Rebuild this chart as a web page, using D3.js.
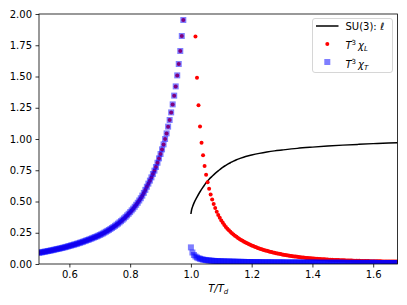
<!DOCTYPE html>
<html><head><meta charset="utf-8">
<script src="https://cdn.jsdelivr.net/npm/d3@7"></script>
<style>body{margin:0;background:#fff}svg{display:block}text{font-family:"DejaVu Sans",sans-serif}</style>
</head><body>
<script>
// chi (T^3 chi) below T_d : same for L and T
const chiBelow = [[0.500,0.090],[0.505,0.092],[0.510,0.094],[0.515,0.097],[0.520,0.099],[0.525,0.101],[0.530,0.104],[0.535,0.106],[0.540,0.109],[0.545,0.111],[0.550,0.114],[0.555,0.117],[0.560,0.120],[0.565,0.122],[0.570,0.125],[0.575,0.128],[0.580,0.131],[0.585,0.134],[0.590,0.137],[0.595,0.141],[0.600,0.144],
[0.605,0.148],[0.610,0.151],[0.615,0.155],[0.620,0.158],[0.625,0.162],[0.630,0.166],[0.635,0.170],[0.640,0.174],[0.645,0.178],[0.650,0.183],[0.655,0.187],[0.660,0.192],[0.665,0.196],[0.670,0.201],[0.675,0.206],[0.680,0.211],[0.685,0.216],[0.690,0.221],[0.695,0.226],[0.700,0.232],
[0.705,0.238],[0.710,0.244],[0.715,0.251],[0.720,0.258],[0.725,0.265],[0.730,0.272],[0.735,0.280],[0.740,0.288],[0.745,0.296],[0.750,0.305],[0.755,0.314],[0.760,0.323],[0.765,0.333],[0.770,0.343],[0.775,0.354],[0.780,0.365],[0.785,0.377],[0.790,0.389],[0.795,0.402],[0.800,0.415],
[0.805,0.429],[0.810,0.443],[0.815,0.458],[0.820,0.474],[0.825,0.490],[0.830,0.508],[0.835,0.526],[0.840,0.547],[0.845,0.569],[0.850,0.593],[0.855,0.618],
[0.860,0.643],[0.865,0.667],[0.870,0.693],[0.875,0.720],[0.880,0.747],[0.885,0.776],[0.890,0.810],[0.895,0.845],[0.900,0.880],[0.905,0.917],[0.910,0.957],[0.915,1.000],[0.920,1.045],[0.925,1.099],[0.930,1.152],[0.935,1.213],[0.940,1.277],[0.945,1.347],[0.950,1.421],[0.955,1.509],[0.960,1.600],[0.965,1.704],[0.970,1.824],[0.975,1.952]];

// T^3 chi_L above T_d
const chiLAbove = [[1.015,1.82],[1.020,1.49],[1.025,1.27],[1.030,1.10],[1.035,0.97],[1.040,0.87],[1.045,0.784],[1.050,0.715],[1.055,0.655],[1.060,0.603],[1.065,0.557],[1.070,0.516],[1.075,0.480],[1.080,0.448],[1.085,0.419],[1.090,0.393],[1.095,0.370],[1.100,0.349],[1.105,0.330],[1.110,0.313],[1.115,0.297],[1.120,0.283],[1.125,0.270],[1.130,0.258],[1.135,0.247],[1.140,0.237],[1.145,0.227],[1.150,0.218],[1.155,0.209],[1.160,0.201],[1.165,0.193],[1.170,0.186],[1.175,0.179],[1.180,0.172],[1.185,0.166],[1.190,0.160],[1.195,0.154],[1.200,0.149],[1.205,0.144],[1.210,0.139],[1.215,0.134],[1.220,0.129],[1.225,0.125],[1.230,0.121],[1.235,0.117],[1.240,0.113],[1.245,0.109],[1.250,0.106],[1.255,0.102],[1.260,0.099],[1.265,0.096],[1.270,0.093],[1.275,0.090],[1.280,0.087],[1.285,0.085],[1.290,0.082],[1.295,0.080],[1.300,0.077],[1.305,0.075],[1.310,0.073],[1.315,0.071],[1.320,0.069],[1.325,0.067],[1.330,0.065],[1.335,0.063],[1.340,0.061],[1.345,0.060],[1.350,0.058],[1.355,0.056],[1.360,0.055],[1.365,0.053],[1.370,0.052],[1.375,0.051],[1.380,0.049],[1.385,0.048],[1.390,0.047],[1.395,0.046],[1.400,0.045],[1.405,0.044],[1.410,0.043],[1.415,0.042],[1.420,0.041],[1.425,0.040],[1.430,0.039],[1.435,0.038],[1.440,0.038],[1.445,0.037],[1.450,0.036],[1.455,0.035],[1.460,0.035],[1.465,0.034],[1.470,0.033],[1.475,0.033],[1.480,0.032],[1.485,0.032],[1.490,0.031],[1.495,0.031],[1.500,0.030],[1.505,0.030],[1.510,0.029],[1.515,0.029],[1.520,0.028],[1.525,0.028],[1.530,0.028],[1.535,0.027],[1.540,0.027],[1.545,0.026],[1.550,0.026],[1.555,0.026],[1.560,0.025],[1.565,0.025],[1.570,0.025],[1.575,0.024],[1.580,0.024],[1.585,0.024],[1.590,0.023],[1.595,0.023],[1.600,0.023],[1.605,0.023],[1.610,0.022],[1.615,0.022],[1.620,0.022],[1.625,0.022],[1.630,0.021],[1.635,0.021],[1.640,0.021],[1.645,0.021],[1.650,0.021],[1.655,0.020],[1.660,0.020],[1.665,0.020],[1.670,0.020],[1.675,0.020],[1.680,0.020]];

// T^3 chi_T above T_d
const chiTAbove = [[1.000,0.133],[1.005,0.092],[1.010,0.072],[1.015,0.060],[1.020,0.052],[1.025,0.046],[1.030,0.042],[1.035,0.038],[1.040,0.035],[1.045,0.033],[1.050,0.031],[1.055,0.029],[1.060,0.028],[1.065,0.027],[1.070,0.026],[1.075,0.025],[1.080,0.024],[1.085,0.023],[1.090,0.023],[1.095,0.022],[1.100,0.022],[1.105,0.021],[1.110,0.021],[1.115,0.020],[1.120,0.020],[1.125,0.020],[1.130,0.019],[1.135,0.019],[1.140,0.019],[1.145,0.018],[1.150,0.018],[1.155,0.018],[1.160,0.017],[1.165,0.017],[1.170,0.017],[1.175,0.017],[1.180,0.016],[1.185,0.016],[1.190,0.016],[1.195,0.016],[1.200,0.016],[1.205,0.015],[1.210,0.015],[1.215,0.015],[1.220,0.015],[1.225,0.015],[1.230,0.015],[1.235,0.014],[1.240,0.014],[1.245,0.014],[1.250,0.014],[1.255,0.014],[1.260,0.014],[1.265,0.014],[1.270,0.013],[1.275,0.013],[1.280,0.013],[1.285,0.013],[1.290,0.013],[1.295,0.013],[1.300,0.013],[1.305,0.013],[1.310,0.012],[1.315,0.012],[1.320,0.012],[1.325,0.012],[1.330,0.012],[1.335,0.012],[1.340,0.012],[1.345,0.012],[1.350,0.012],[1.355,0.012],[1.360,0.011],[1.365,0.011],[1.370,0.011],[1.375,0.011],[1.380,0.011],[1.385,0.011],[1.390,0.011],[1.395,0.011],[1.400,0.011],[1.405,0.011],[1.410,0.011],[1.415,0.011],[1.420,0.010],[1.425,0.010],[1.430,0.010],[1.435,0.010],[1.440,0.010],[1.445,0.010],[1.450,0.010],[1.455,0.010],[1.460,0.010],[1.465,0.010],[1.470,0.010],[1.475,0.010],[1.480,0.010],[1.485,0.010],[1.490,0.010],[1.495,0.010],[1.500,0.010],[1.505,0.010],[1.510,0.009],[1.515,0.009],[1.520,0.009],[1.525,0.009],[1.530,0.009],[1.535,0.009],[1.540,0.009],[1.545,0.009],[1.550,0.009],[1.555,0.009],[1.560,0.009],[1.565,0.009],[1.570,0.009],[1.575,0.009],[1.580,0.009],[1.585,0.009],[1.590,0.009],[1.595,0.009],[1.600,0.009],[1.605,0.009],[1.610,0.009],[1.615,0.008],[1.620,0.008],[1.625,0.008],[1.630,0.008],[1.635,0.008],[1.640,0.008],[1.645,0.008],[1.650,0.008],[1.655,0.008],[1.660,0.008],[1.665,0.008],[1.670,0.008],[1.675,0.008],[1.680,0.008]];

// SU(3) Polyakov loop
const ellT = [1.000,1.002,1.005,1.010,1.020,1.030,1.040,1.050,1.060,1.070,1.080,1.090,1.100,1.110,1.120,1.130,1.140,1.150,1.160,1.180,1.200,1.225,1.250,1.275,1.300,1.350,1.400,1.450,1.500,1.550,1.600,1.650,1.680];
const ellV = [0.400,0.430,0.455,0.487,0.535,0.578,0.615,0.650,0.678,0.702,0.725,0.745,0.765,0.782,0.797,0.810,0.823,0.834,0.843,0.860,0.872,0.885,0.896,0.905,0.912,0.925,0.935,0.944,0.951,0.957,0.963,0.968,0.970];

const xTicks = [0.6,0.8,1.0,1.2,1.4,1.6];
const yTicks = [0,0.25,0.5,0.75,1.0,1.25,1.5,1.75,2.0];

const W = 407, H = 305;
const L = 39, R = 397.5, T = 14, B = 264;
const svg = d3.select("body").append("svg").attr("width", W).attr("height", H);
const x = d3.scaleLinear().domain([0.5, 1.68]).range([L, R]);
const y = d3.scaleLinear().domain([0, 2]).range([B, T]);

svg.append("defs").append("clipPath").attr("id","clip")
  .append("rect").attr("x", L).attr("y", T).attr("width", R - L).attr("height", B - T);
const plot = svg.append("g").attr("clip-path","url(#clip)");

const chiL = chiBelow.concat(chiLAbove);
const chiT = chiBelow.concat(chiTAbove);

// line
const ell = ellT.map((t,i)=>[t, ellV[i]]);
plot.append("path").datum(ell)
  .attr("d", d3.line().x(d=>x(d[0])).y(d=>y(d[1])).curve(d3.curveMonotoneX))
  .attr("fill","none").attr("stroke","#000").attr("stroke-width",1.5);

// red dots
plot.append("g").selectAll("circle").data(chiL).join("circle")
  .attr("cx", d=>x(d[0])).attr("cy", d=>y(d[1])).attr("r", 2).attr("fill","#ff0000");

// blue squares
const s = 6;
plot.append("g").selectAll("rect").data(chiT).join("rect")
  .attr("x", d=>x(d[0]) - s/2).attr("y", d=>y(d[1]) - s/2)
  .attr("width", s).attr("height", s).attr("fill","#0000ff").attr("fill-opacity",0.5);

// axes
const xAxis = d3.axisBottom(x).tickValues(xTicks).tickFormat(d3.format(".1f")).tickSize(3.5).tickPadding(3.5);
const yAxis = d3.axisLeft(y).tickValues(yTicks).tickFormat(d3.format(".2f")).tickSize(3.5).tickPadding(3.5);
const gx = svg.append("g").attr("transform",`translate(0,${B})`).call(xAxis);
const gy = svg.append("g").attr("transform",`translate(${L},0)`).call(yAxis);
[gx, gy].forEach(g=>{
  g.select(".domain").remove();
  g.selectAll(".tick line").attr("stroke","#000").attr("stroke-width",0.8);
  g.selectAll(".tick text").attr("fill","#000").attr("font-size",10).attr("font-family","DejaVu Sans");
});

// frame
svg.append("rect").attr("x", L).attr("y", T).attr("width", R - L).attr("height", B - T)
  .attr("fill","none").attr("stroke","#000").attr("stroke-width",0.8);

// x label
const xl = svg.append("text").attr("x", (L+R)/2).attr("y", 292).attr("text-anchor","middle").attr("font-size",10);
xl.append("tspan").attr("font-style","italic").text("T/T");
xl.append("tspan").attr("font-style","italic").attr("font-size",7).attr("dy",2).text("d");

// legend
const lg = svg.append("g");
lg.append("rect").attr("x",312.5).attr("y",18.5).attr("width",80).attr("height",54).attr("rx",2.5)
  .attr("fill","#fff").attr("fill-opacity",0.8).attr("stroke","#cccccc").attr("stroke-width",0.8);
lg.append("line").attr("x1",316).attr("x2",338.5).attr("y1",26).attr("y2",26).attr("stroke","#000").attr("stroke-width",1.5);
lg.append("circle").attr("cx",327.3).attr("cy",44).attr("r",2).attr("fill","#ff0000");
lg.append("rect").attr("x",327.3-s/2).attr("y",62-s/2).attr("width",s).attr("height",s).attr("fill","#0000ff").attr("fill-opacity",0.5);

const t1 = lg.append("text").attr("x",345.5).attr("y",30).attr("font-size",10);
t1.append("tspan").text("SU(3): ");
t1.append("tspan").attr("font-style","italic").text("ℓ");

function chiLabel(yb, sub){
  const t = lg.append("text").attr("x",345.5).attr("y",yb).attr("font-size",10);
  t.append("tspan").attr("font-style","italic").text("T");
  t.append("tspan").attr("font-size",7).attr("dy",-4).text("3");
  t.append("tspan").attr("font-style","italic").attr("dy",4).attr("dx",2).text("χ");
  t.append("tspan").attr("font-style","italic").attr("font-size",7).attr("dy",2).text(sub);
}
chiLabel(49, "L");
chiLabel(68, "T");
</script>
</body></html>
